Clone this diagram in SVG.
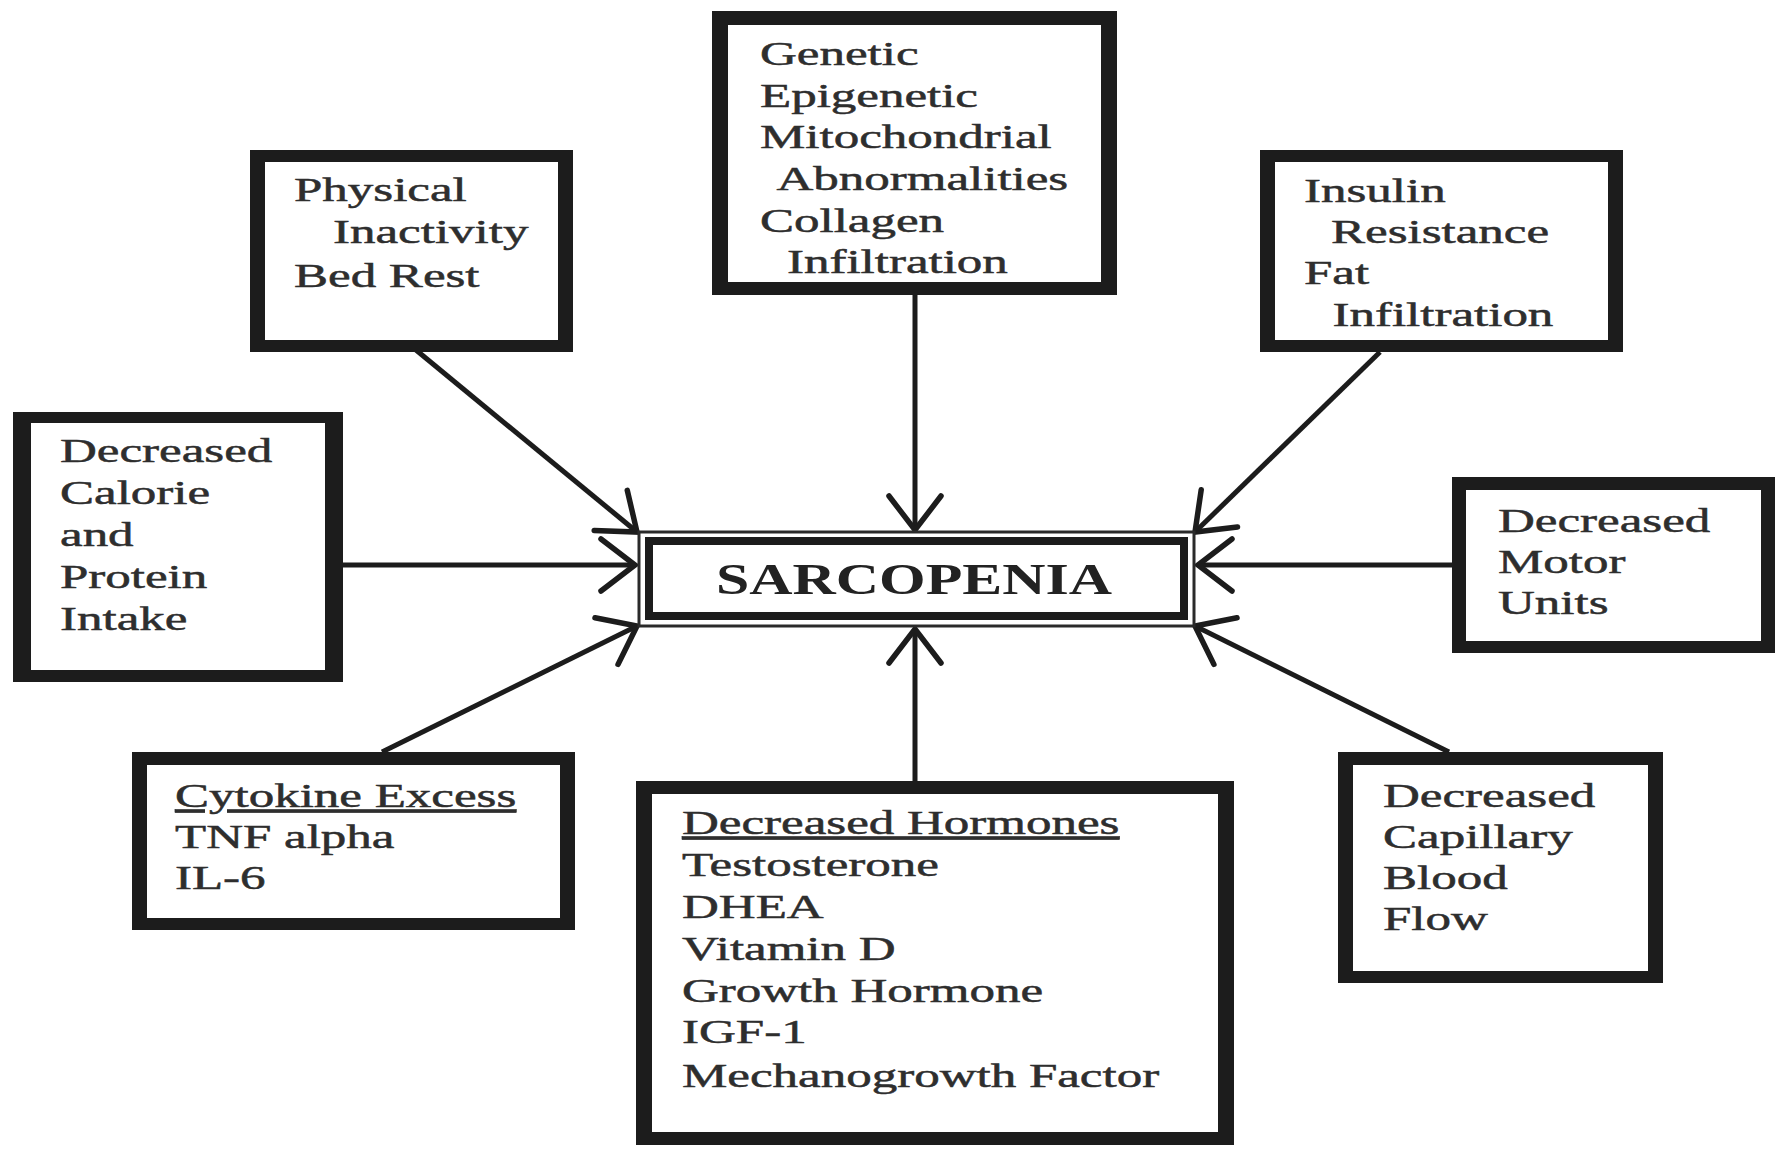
<svg xmlns="http://www.w3.org/2000/svg" width="1789" height="1163" viewBox="0 0 1789 1163">
  <style>
    .frame { fill: #1c1c1c; }
    .inner { fill: #ffffff; }
    .lbl { font-family: "Liberation Serif", "Times New Roman", serif; font-size: 34px; fill: #2e2e2e; stroke: #2e2e2e; stroke-width: 0.5; }
    .ul { text-decoration: underline; }
    .title { font-family: "Liberation Serif", "Times New Roman", serif; font-size: 45px; font-weight: bold; fill: #222222; }
    .conn { stroke: #1c1c1c; stroke-width: 5; fill: none; marker-end: url(#head); }
  </style>
  <defs>
    <!-- open chevron arrowhead -->
    <marker id="head" markerUnits="userSpaceOnUse" viewBox="-40 -32 46 64" refX="0" refY="0" markerWidth="46" markerHeight="64" orient="auto" overflow="visible">
      <path d="M -34 -26 L 0 0 L -34 26" fill="none" stroke="#1c1c1c" stroke-width="5.5" stroke-linecap="round" stroke-linejoin="miter"/>
    </marker>
  </defs>

  <rect width="1789" height="1163" fill="#ffffff"/>

  <!-- connectors -->
  <g id="connectors">
    <line class="conn" x1="416" y1="350" x2="637" y2="532"/>
    <line class="conn" x1="915" y1="295" x2="915" y2="530"/>
    <line class="conn" x1="1380" y1="352" x2="1195" y2="532"/>
    <line class="conn" x1="343" y1="565" x2="635" y2="565"/>
    <line class="conn" x1="1452" y1="565" x2="1198" y2="565"/>
    <line class="conn" x1="382" y1="752" x2="637" y2="626"/>
    <line class="conn" x1="915" y1="781" x2="915" y2="629"/>
    <line class="conn" x1="1449" y1="752" x2="1195" y2="626"/>
  </g>

  <!-- central node with double border -->
  <g id="sarcopenia">
    <rect x="639" y="532" width="555" height="94" fill="#ffffff" stroke="#2a2a2a" stroke-width="3"/>
    <rect x="649" y="541" width="535" height="75" fill="#ffffff" stroke="#1c1c1c" stroke-width="8"/>
    <text class="title" x="716" y="594" textLength="396" lengthAdjust="spacingAndGlyphs">SARCOPENIA</text>
  </g>

  <g id="physical-inactivity">
    <rect class="frame" x="250" y="150" width="323" height="202"/>
    <rect class="inner" x="265" y="162" width="293" height="178"/>
    <text class="lbl" transform="translate(294 0) scale(1.5 1)">
      <tspan x="0" y="201">Physical</tspan>
      <tspan x="26" y="243">Inactivity</tspan>
      <tspan x="0" y="287">Bed Rest</tspan>
    </text>
  </g>

  <g id="genetic">
    <rect class="frame" x="712" y="11" width="405" height="284"/>
    <rect class="inner" x="728" y="25" width="373" height="257"/>
    <text class="lbl" transform="translate(760 0) scale(1.5 1)">
      <tspan x="0" y="65">Genetic</tspan>
      <tspan x="0" y="107">Epigenetic</tspan>
      <tspan x="0" y="148">Mitochondrial</tspan>
      <tspan x="11" y="190">Abnormalities</tspan>
      <tspan x="0" y="232">Collagen</tspan>
      <tspan x="18" y="273">Infiltration</tspan>
    </text>
  </g>

  <g id="insulin-resistance">
    <rect class="frame" x="1260" y="150" width="363" height="202"/>
    <rect class="inner" x="1275" y="162" width="333" height="178"/>
    <text class="lbl" transform="translate(1304 0) scale(1.5 1)">
      <tspan x="0" y="202">Insulin</tspan>
      <tspan x="18" y="243">Resistance</tspan>
      <tspan x="0" y="284">Fat</tspan>
      <tspan x="19" y="326">Infiltration</tspan>
    </text>
  </g>

  <g id="calorie-intake">
    <rect class="frame" x="13" y="412" width="330" height="270"/>
    <rect class="inner" x="31" y="423" width="294" height="247"/>
    <text class="lbl" transform="translate(60 0) scale(1.5 1)">
      <tspan x="0" y="462">Decreased</tspan>
      <tspan x="0" y="504">Calorie</tspan>
      <tspan x="0" y="546">and</tspan>
      <tspan x="0" y="588">Protein</tspan>
      <tspan x="0" y="630">Intake</tspan>
    </text>
  </g>

  <g id="motor-units">
    <rect class="frame" x="1452" y="477" width="323" height="176"/>
    <rect class="inner" x="1466" y="490" width="295" height="151"/>
    <text class="lbl" transform="translate(1498 0) scale(1.5 1)">
      <tspan x="0" y="532">Decreased</tspan>
      <tspan x="0" y="573">Motor</tspan>
      <tspan x="0" y="614">Units</tspan>
    </text>
  </g>

  <g id="cytokine-excess">
    <rect class="frame" x="132" y="752" width="443" height="178"/>
    <rect class="inner" x="147" y="765" width="413" height="153"/>
    <text class="lbl" transform="translate(175 0) scale(1.5 1)">
      <tspan class="ul" x="0" y="807">Cytokine Excess</tspan>
      <tspan x="0" y="848">TNF alpha</tspan>
      <tspan x="0" y="889">IL-6</tspan>
    </text>
  </g>

  <g id="decreased-hormones">
    <rect class="frame" x="636" y="781" width="598" height="364"/>
    <rect class="inner" x="652" y="794" width="566" height="338"/>
    <text class="lbl" transform="translate(682 0) scale(1.5 1)">
      <tspan class="ul" x="0" y="834">Decreased Hormones</tspan>
      <tspan x="0" y="876">Testosterone</tspan>
      <tspan x="0" y="918">DHEA</tspan>
      <tspan x="0" y="960">Vitamin D</tspan>
      <tspan x="0" y="1002">Growth Hormone</tspan>
      <tspan x="0" y="1043">IGF-1</tspan>
      <tspan x="0" y="1087">Mechanogrowth Factor</tspan>
    </text>
  </g>

  <g id="capillary-flow">
    <rect class="frame" x="1338" y="752" width="325" height="231"/>
    <rect class="inner" x="1353" y="765" width="295" height="206"/>
    <text class="lbl" transform="translate(1383 0) scale(1.5 1)">
      <tspan x="0" y="807">Decreased</tspan>
      <tspan x="0" y="848">Capillary</tspan>
      <tspan x="0" y="889">Blood</tspan>
      <tspan x="0" y="930">Flow</tspan>
    </text>
  </g>
</svg>
